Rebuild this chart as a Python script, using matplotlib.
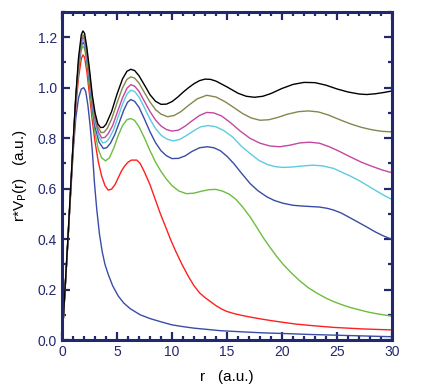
import matplotlib
matplotlib.use("Agg")
from matplotlib import pyplot as plt
from matplotlib.ticker import MultipleLocator, FormatStrFormatter

# curves, lowest to highest
r_blue = [0, 0.5, 1.0, 1.25, 1.5, 1.75, 1.97, 2.15, 2.35, 2.55, 2.75, 2.95, 3.15, 3.4, 3.65, 3.9, 4.2, 4.6, 5.1, 5.6, 6.2, 7.1, 8.0, 9.0, 10, 11, 12, 13.2, 14.4, 15.7, 17, 18.5, 20, 22.5, 25, 27.5, 30]
v_blue = [0, 0.37, 0.74, 0.88, 0.96, 0.995, 1.0, 0.985, 0.93, 0.85, 0.75, 0.62, 0.52, 0.42, 0.35, 0.30, 0.26, 0.215, 0.175, 0.147, 0.124, 0.10, 0.085, 0.072, 0.06, 0.053, 0.047, 0.042, 0.037, 0.034, 0.031, 0.028, 0.026, 0.022, 0.019, 0.016, 0.013]

r_red = [0, 0.5, 1.0, 1.25, 1.5, 1.75, 1.9, 2.05, 2.25, 2.5, 2.75, 3.0, 3.3, 3.6, 3.9, 4.2, 4.5, 4.8, 5.1, 5.4, 5.7, 6.0, 6.3, 6.8, 7.1, 7.5, 8.0, 8.45, 8.9, 9.4, 9.85, 10.3, 10.9, 11.5, 12.0, 12.5, 13.0, 13.5, 14.0, 14.5, 15.0, 15.7, 16.4, 17.1, 18.0, 19.0, 20.1, 21.3, 22.5, 23.6, 24.7, 26.0, 27.3, 28.6, 30]
v_red = [0, 0.37, 0.76, 0.925, 1.04, 1.115, 1.13, 1.12, 1.065, 0.97, 0.87, 0.785, 0.705, 0.65, 0.612, 0.594, 0.598, 0.615, 0.642, 0.67, 0.69, 0.705, 0.713, 0.713, 0.70, 0.665, 0.615, 0.56, 0.505, 0.45, 0.40, 0.355, 0.30, 0.251, 0.215, 0.187, 0.168, 0.152, 0.136, 0.123, 0.113, 0.104, 0.097, 0.091, 0.084, 0.077, 0.07, 0.063, 0.058, 0.054, 0.05, 0.047, 0.044, 0.042, 0.04]

r_green = [0, 0.5, 1.0, 1.25, 1.5, 1.75, 1.9, 2.05, 2.25, 2.5, 2.75, 3.0, 3.3, 3.6, 3.95, 4.3, 4.7, 5.1, 5.5, 5.9, 6.25, 6.6, 7.0, 7.5, 8.0, 8.5, 9.0, 9.5, 10.0, 10.6, 11.3, 12.0, 12.7, 13.4, 14.0, 14.6, 15.2, 15.8, 16.4, 17.1, 17.7, 18.3, 18.9, 19.5, 20.1, 20.8, 21.6, 22.4, 23.2, 24.0, 24.7, 25.5, 26.2, 27.0, 27.7, 28.5, 29.2, 30]
v_green = [0, 0.37, 0.77, 0.945, 1.07, 1.15, 1.165, 1.155, 1.10, 1.0, 0.90, 0.82, 0.755, 0.722, 0.71, 0.722, 0.76, 0.81, 0.85, 0.873, 0.878, 0.87, 0.845, 0.80, 0.75, 0.705, 0.668, 0.637, 0.612, 0.591, 0.58, 0.582, 0.59, 0.596, 0.597, 0.59, 0.578, 0.558, 0.528, 0.488, 0.447, 0.405, 0.368, 0.332, 0.30, 0.268, 0.235, 0.207, 0.185, 0.166, 0.152, 0.139, 0.129, 0.12, 0.112, 0.105, 0.10, 0.095]

r_navy = [0, 0.5, 1.0, 1.25, 1.5, 1.75, 1.9, 2.05, 2.25, 2.5, 2.75, 3.0, 3.35, 3.75, 4.05, 4.4, 4.8, 5.2, 5.6, 5.95, 6.25, 6.6, 7.0, 7.5, 8.0, 8.5, 9.0, 9.5, 10.0, 10.6, 11.2, 11.8, 12.5, 13.2, 13.8, 14.4, 15.0, 15.6, 16.3, 17.1, 17.8, 18.6, 19.3, 20.1, 21.0, 21.8, 22.6, 23.4, 24.1, 24.7, 25.4, 26.2, 27.0, 27.7, 28.5, 29.2, 30]
v_navy = [0, 0.37, 0.77, 0.95, 1.085, 1.165, 1.18, 1.17, 1.115, 1.02, 0.925, 0.845, 0.785, 0.759, 0.762, 0.78, 0.815, 0.862, 0.91, 0.942, 0.953, 0.946, 0.922, 0.875, 0.825, 0.782, 0.75, 0.73, 0.719, 0.72, 0.73, 0.747, 0.762, 0.766, 0.762, 0.75, 0.728, 0.70, 0.662, 0.62, 0.592, 0.568, 0.553, 0.542, 0.534, 0.531, 0.529, 0.527, 0.522, 0.515, 0.503, 0.484, 0.465, 0.448, 0.428, 0.413, 0.399]

r_cyan = [0, 0.5, 1.0, 1.25, 1.5, 1.75, 1.9, 2.05, 2.25, 2.5, 2.75, 3.0, 3.35, 3.7, 4.0, 4.3, 4.7, 5.1, 5.5, 5.9, 6.25, 6.6, 7.0, 7.5, 8.0, 8.5, 9.0, 9.5, 10.1, 10.7, 11.3, 12.0, 12.6, 13.3, 14.0, 14.7, 15.5, 16.3, 17.1, 17.9, 18.7, 19.4, 20.1, 21.0, 21.9, 22.8, 23.7, 24.7, 25.5, 26.2, 27.0, 27.7, 28.5, 29.2, 30]
v_cyan = [0, 0.37, 0.77, 0.955, 1.09, 1.175, 1.19, 1.18, 1.125, 1.035, 0.94, 0.862, 0.805, 0.781, 0.785, 0.80, 0.835, 0.885, 0.935, 0.975, 0.99, 0.985, 0.963, 0.92, 0.875, 0.838, 0.812, 0.797, 0.789, 0.795, 0.81, 0.83, 0.845, 0.85, 0.845, 0.83, 0.805, 0.768, 0.739, 0.712, 0.695, 0.687, 0.684, 0.686, 0.69, 0.693, 0.69, 0.68, 0.664, 0.65, 0.632, 0.614, 0.593, 0.575, 0.557]

r_mag = [0, 0.5, 1.0, 1.25, 1.5, 1.75, 1.9, 2.05, 2.25, 2.5, 2.75, 3.0, 3.3, 3.6, 3.9, 4.2, 4.6, 5.0, 5.5, 5.9, 6.25, 6.6, 7.0, 7.5, 8.0, 8.5, 9.0, 9.5, 10.0, 10.6, 11.2, 11.8, 12.5, 13.15, 13.8, 14.5, 15.3, 16.2, 17.1, 18.0, 18.9, 19.8, 20.7, 21.6, 22.5, 23.4, 24.3, 25.2, 26.2, 27.2, 28.2, 29.1, 30]
v_mag = [0, 0.37, 0.77, 0.96, 1.095, 1.185, 1.20, 1.19, 1.135, 1.045, 0.95, 0.875, 0.825, 0.801, 0.803, 0.818, 0.85, 0.90, 0.96, 0.998, 1.012, 1.006, 0.985, 0.945, 0.905, 0.872, 0.848, 0.834, 0.828, 0.832, 0.848, 0.868, 0.89, 0.902, 0.90, 0.888, 0.862, 0.828, 0.799, 0.78, 0.769, 0.766, 0.772, 0.781, 0.784, 0.78, 0.766, 0.748, 0.726, 0.705, 0.688, 0.674, 0.663]

r_olive = [0, 0.5, 1.0, 1.25, 1.5, 1.75, 1.9, 2.05, 2.25, 2.5, 2.75, 3.0, 3.25, 3.55, 3.8, 4.1, 4.5, 5.0, 5.5, 5.9, 6.25, 6.6, 7.0, 7.5, 8.0, 8.5, 9.0, 9.6, 10.2, 10.8, 11.5, 12.3, 13.15, 14.0, 14.8, 15.6, 16.4, 17.2, 18.0, 18.8, 19.6, 20.5, 21.5, 22.4, 23.3, 24.2, 25.2, 26.2, 27.2, 28.2, 29.1, 30]
v_olive = [0, 0.37, 0.77, 0.96, 1.10, 1.195, 1.21, 1.20, 1.145, 1.055, 0.96, 0.89, 0.845, 0.822, 0.823, 0.838, 0.875, 0.94, 1.0, 1.033, 1.043, 1.038, 1.018, 0.98, 0.943, 0.913, 0.895, 0.885, 0.89, 0.905, 0.93, 0.956, 0.970, 0.963, 0.945, 0.922, 0.898, 0.88, 0.871, 0.873, 0.882, 0.895, 0.905, 0.908, 0.904, 0.892, 0.874, 0.857, 0.843, 0.833, 0.827, 0.825]

r_black = [0, 0.5, 1.0, 1.25, 1.5, 1.75, 1.9, 2.05, 2.25, 2.5, 2.75, 3.0, 3.25, 3.5, 3.75, 4.0, 4.5, 5.0, 5.5, 5.9, 6.25, 6.6, 7.0, 7.5, 8.0, 8.5, 9.0, 9.5, 10, 10.5, 11, 11.5, 12, 12.5, 13, 13.5, 14, 15, 16, 16.75, 17.5, 18.25, 19, 20, 21, 22, 23, 24, 25, 26, 27, 27.7, 28.5, 29.25, 30]
v_black = [0, 0.38, 0.78, 0.97, 1.12, 1.21, 1.225, 1.215, 1.16, 1.07, 0.97, 0.90, 0.857, 0.842, 0.843, 0.855, 0.905, 0.975, 1.035, 1.065, 1.073, 1.068, 1.047, 1.01, 0.972, 0.946, 0.934, 0.935, 0.945, 0.962, 0.982, 1.0, 1.016, 1.028, 1.034, 1.033, 1.026, 1.003, 0.978, 0.966, 0.962, 0.966, 0.977, 0.997, 1.013, 1.021, 1.02, 1.01, 0.995, 0.983, 0.975, 0.973, 0.976, 0.981, 0.987]

curves = [
    (r_blue, v_blue, "#3a4ca6"),
    (r_red, v_red, "#ff1f1f"),
    (r_green, v_green, "#6cbd3c"),
    (r_navy, v_navy, "#3a4ca6"),
    (r_cyan, v_cyan, "#5ccbe0"),
    (r_mag, v_mag, "#c3479f"),
    (r_olive, v_olive, "#86864c"),
    (r_black, v_black, "#000000"),
]

navy = "#23276e"
plt.rcParams["font.family"] = ["Liberation Sans", "DejaVu Sans"]

fig = plt.figure(figsize=(4.31, 3.91), dpi=100)
ax = fig.add_axes([0.144, 0.1304, 0.7655, 0.8389])

for r, v, c in curves:
    ax.plot(r, v, color=c, lw=1.0, solid_joinstyle="round")

ax.set_xlim(0, 30)
ax.set_ylim(0, 1.3)
ax.xaxis.set_major_locator(MultipleLocator(5))
ax.xaxis.set_minor_locator(MultipleLocator(1))
ax.yaxis.set_major_locator(MultipleLocator(0.2))
ax.yaxis.set_minor_locator(MultipleLocator(0.1))
ax.yaxis.set_major_formatter(FormatStrFormatter("%.1f"))

for s in ax.spines.values():
    s.set_color(navy)
    s.set_linewidth(2.2)
ax.tick_params(which="both", direction="in", top=True, right=True,
               color=navy, width=1.6, labelcolor=navy, labelsize=10)
ax.tick_params(which="major", length=6)
ax.tick_params(which="minor", length=3)

ax.set_xlabel("r   (a.u.)", fontsize=11, labelpad=8)
ax.set_ylabel("r*V$_\\mathrm{P}$(r)   (a.u.)", fontsize=11, labelpad=6)

fig.savefig("out.png", dpi=100)
